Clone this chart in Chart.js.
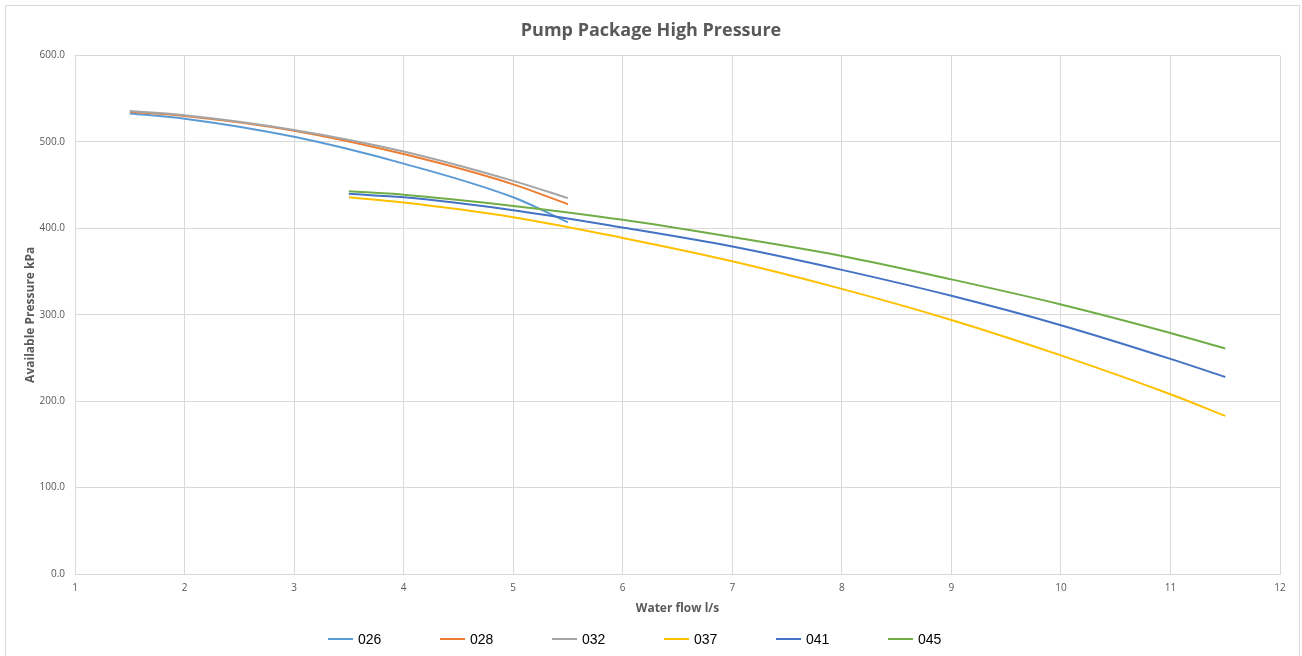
<!DOCTYPE html>
<html>
<head>
<meta charset="utf-8">
<script src="https://cdn.jsdelivr.net/npm/chart.js@4.4.1/dist/chart.umd.min.js"></script>
<style>
  html, body { margin: 0; padding: 0; background: #fff; overflow: hidden; }
  #frame { position: absolute; left: 5px; top: 5px; width: 1293px; height: 700px; border: 1px solid #d9d9d9; }
  #wrap { position: absolute; left: 0; top: 0; width: 1302px; height: 656px; }
</style>
</head>
<body>
<div id="frame"></div>
<div id="wrap"><canvas id="pumpChart" width="1302" height="656"></canvas></div>
<script>
// Series names (legend)
const seriesNames = ['026', '028', '032', '037', '041', '045'];
const seriesColors = ['#5B9BD5', '#ED7D31', '#A5A5A5', '#FFC000', '#4472C4', '#70AD47'];

// Water flow l/s (x) and available pressure kPa (y) per pump
const flowSmall = [1.5, 2, 3, 4, 5, 5.5];
const flowLarge = [3.5, 4, 5, 6, 7, 8, 9, 10, 11, 11.5];

const pressure026 = [533, 527, 506, 475, 436, 407];
const pressure028 = [535, 530, 513, 486, 451, 428];
const pressure032 = [536, 531, 514, 489, 455, 435];
const pressure037 = [436, 430, 413, 389, 362, 330, 294, 253, 208, 183];
const pressure041 = [440, 436, 421, 401, 379, 352, 322, 288, 249, 228];
const pressure045 = [443, 439, 426, 410, 390, 368, 341, 312, 279, 261];

// Axis ticks
const xTicks = [1, 2, 3, 4, 5, 6, 7, 8, 9, 10, 11, 12];
const yTicks = [0, 100, 200, 300, 400, 500, 600];

const allFlows = [flowSmall, flowSmall, flowSmall, flowLarge, flowLarge, flowLarge];
const allPressures = [pressure026, pressure028, pressure032, pressure037, pressure041, pressure045];

function toPoints(xs, ys) {
    return xs.map((x, i) => ({ x: x, y: ys[i] }));
}

const datasets = seriesNames.map((name, i) => ({
    label: name,
    data: toPoints(allFlows[i], allPressures[i]),
    borderColor: seriesColors[i],
    backgroundColor: seriesColors[i],
    borderWidth: 2,
    pointRadius: 0,
    cubicInterpolationMode: 'monotone',
    order: seriesNames.length - i // later series on top, like Excel
}));

// Legend drawn under the axis title, spaced like the original
const bottomLegend = {
    id: 'bottomLegend',
    afterDraw(chart) {
        const ctx = chart.ctx;
        const startX = 328, gap = 112, y = 639;
        ctx.save();
        ctx.font = '14px "Liberation Sans", Arial, sans-serif';
        ctx.textBaseline = 'middle';
        ctx.fillStyle = '#000';
        chart.data.datasets.forEach((ds, i) => {
            const x = startX + i * gap;
            ctx.strokeStyle = ds.borderColor;
            ctx.lineWidth = 2;
            ctx.beginPath();
            ctx.moveTo(x, y);
            ctx.lineTo(x + 25, y);
            ctx.stroke();
            ctx.fillText(ds.label, x + 30, y + 1);
        });
        ctx.restore();
    }
};

const gray = '#595959';
const gridColor = '#d9d9d9';
const fontFamily = '"Open Sans", "Liberation Sans", sans-serif';

new Chart(document.getElementById('pumpChart'), {
    type: 'line',
    data: { datasets: datasets },
    plugins: [bottomLegend],
    options: {
        responsive: false,
        animation: false,
        layout: { padding: { left: 0, right: 0, top: 0, bottom: 40 } },
        plugins: {
            legend: { display: false },
            tooltip: { enabled: false },
            title: {
                display: true,
                text: 'Pump Package High Pressure',
                color: gray,
                font: { family: fontFamily, size: 18, weight: 'bold' },
                padding: { top: 20, bottom: 14 }
            }
        },
        scales: {
            x: {
                type: 'linear',
                min: xTicks[0],
                max: xTicks[xTicks.length - 1],
                afterBuildTicks: (axis) => { axis.ticks = xTicks.map(v => ({ value: v })); },
                afterFit: (axis) => { axis.height = 42; },
                grid: { color: gridColor, drawTicks: false },
                border: { color: gridColor },
                ticks: { color: gray, padding: 8, maxRotation: 0, font: { family: fontFamily, size: 10 } },
                title: {
                    display: true,
                    text: 'Water flow l/s',
                    color: gray,
                    font: { family: fontFamily, size: 12, weight: 'bold' },
                    padding: { top: 2, bottom: 0 }
                }
            },
            y: {
                min: yTicks[0],
                max: yTicks[yTicks.length - 1],
                afterBuildTicks: (axis) => { axis.ticks = yTicks.map(v => ({ value: v })); },
                afterFit: (axis) => { axis.width = 75; },
                grid: { color: gridColor, drawTicks: false },
                border: { color: gridColor },
                ticks: {
                    color: gray,
                    padding: 10,
                    font: { family: fontFamily, size: 10 },
                    callback: (v) => Number(v).toFixed(1)
                },
                title: {
                    display: true,
                    text: 'Available Pressure kPa',
                    color: gray,
                    font: { family: fontFamily, size: 12, weight: 'bold' },
                    padding: { top: 23, bottom: 0 }
                }
            },
            // empty right-hand spacer so the title centres on the whole canvas
            spacer: {
                type: 'linear',
                position: 'right',
                display: true,
                grid: { display: false },
                border: { display: false },
                ticks: { display: false },
                afterFit: (axis) => { axis.width = 22; }
            }
        }
    }
});
</script>
</body>
</html>
